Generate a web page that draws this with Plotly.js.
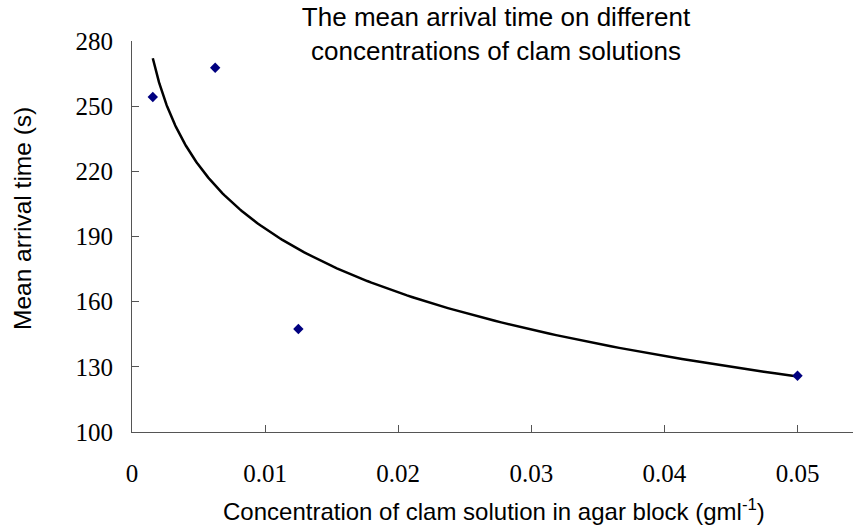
<!DOCTYPE html>
<html>
<head>
<meta charset="utf-8">
<script src="https://cdn.plot.ly/plotly-3.0.1.min.js"></script>
<style>
  html, body { margin: 0; padding: 0; background: #fff; }
  #chart { width: 853px; height: 526px; }
</style>
</head>
<body>
<div id="chart"></div>
<script>
// Clam solution concentration in the agar block (g/ml) and mean arrival time (s)
const concentration = [0.0015625, 0.00625, 0.0125, 0.05];
const arrivalTime = [254.2, 267.7, 147.4, 125.9];

const xTickValues = [0, 0.01, 0.02, 0.03, 0.04, 0.05];
const xTickLabels = ['0', '0.01', '0.02', '0.03', '0.04', '0.05'];
const yTickValues = [100, 130, 160, 190, 220, 250, 280];
const yTickLabels = ['100', '130', '160', '190', '220', '250', '280'];

// Logarithmic trendline y = a + b ln(x), least-squares fit to the measured points
function logFit(xs, ys) {
  const lx = xs.map(Math.log);
  const n = xs.length;
  const mx = lx.reduce((s, v) => s + v, 0) / n;
  const my = ys.reduce((s, v) => s + v, 0) / n;
  let sxy = 0, sxx = 0;
  for (let i = 0; i < n; i++) {
    sxy += (lx[i] - mx) * (ys[i] - my);
    sxx += (lx[i] - mx) * (lx[i] - mx);
  }
  const b = sxy / sxx;
  const a = my - b * mx;
  return x => a + b * Math.log(x);
}

const fit = logFit(concentration, arrivalTime);
const xMin = Math.min(...concentration);
const xMax = Math.max(...concentration);
const trendX = [];
const trendY = [];
const steps = 200;
for (let i = 0; i <= steps; i++) {
  const x = xMin * Math.pow(xMax / xMin, i / steps);
  trendX.push(x);
  trendY.push(fit(x));
}

const traces = [
  {
    x: trendX, y: trendY, type: 'scatter', mode: 'lines',
    line: { color: '#000000', width: 2.5 },
    hoverinfo: 'skip', showlegend: false
  },
  {
    x: concentration, y: arrivalTime, type: 'scatter', mode: 'markers',
    marker: { symbol: 'diamond', size: 8, color: '#000080' },
    cliponaxis: false, showlegend: false
  }
];

const serifFamily = '"Times New Roman", "Liberation Serif", "DejaVu Serif", serif';
const tickFont = { family: serifFamily, size: 25, color: '#000' };
const textFont = { family: 'Liberation Sans', size: 24, color: '#000' };

const layout = {
  width: 853, height: 526,
  paper_bgcolor: '#fff', plot_bgcolor: '#fff',
  margin: { l: 132, r: 0, t: 41, b: 94 },
  showlegend: false,
  title: {
    text: 'The mean arrival time on different<br>concentrations of clam solutions',
    font: { family: 'Liberation Sans', size: 26, color: '#000' },
    x: 496 / 853, xanchor: 'center', xref: 'container',
    y: 1 - 26 / 526, yanchor: 'middle', yref: 'container'
  },
  xaxis: {
    range: [0, 0.05417],
    tickmode: 'array', tickvals: xTickValues, ticktext: xTickLabels,
    ticks: 'inside', ticklen: 7, tickwidth: 1, tickcolor: '#555',
    showline: true, linecolor: '#555', linewidth: 1,
    showgrid: false, zeroline: false,
    tickfont: tickFont, ticklabelstandoff: 19
  },
  yaxis: {
    range: [100, 280],
    tickmode: 'array', tickvals: yTickValues, ticktext: yTickLabels,
    ticks: 'inside', ticklen: 7, tickwidth: 1, tickcolor: '#555',
    showline: true, linecolor: '#555', linewidth: 1,
    showgrid: false, zeroline: false,
    tickfont: tickFont, ticklabelstandoff: 13
  },
  annotations: [
    {
      text: 'Concentration of clam solution in agar block (gml<sup>-1</sup>)',
      xref: 'paper', yref: 'paper', x: (494 - 132) / 721, y: 0,
      xanchor: 'center', yanchor: 'middle', yshift: -(510 - 432),
      showarrow: false, font: textFont
    },
    {
      text: 'Mean arrival time (s)',
      xref: 'paper', yref: 'paper', x: 0, y: (432 - 219) / 391,
      xanchor: 'center', yanchor: 'middle', xshift: -(132 - 23),
      textangle: -90, showarrow: false, font: { family: 'Liberation Sans', size: 24.5, color: '#000' }
    }
  ]
};

Plotly.newPlot('chart', traces, layout, { displayModeBar: false, staticPlot: true });
</script>
</body>
</html>
